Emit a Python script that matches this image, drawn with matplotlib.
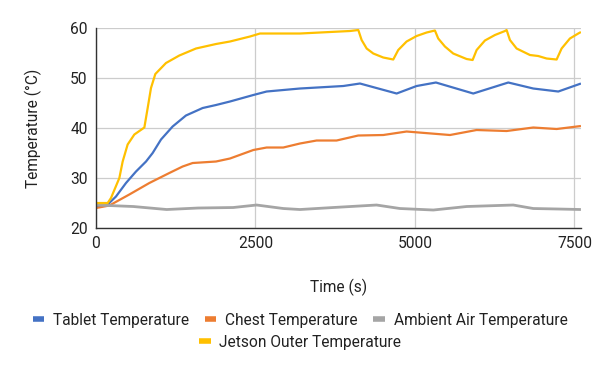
import matplotlib
matplotlib.use('Agg')
import matplotlib.pyplot as plt
from matplotlib.lines import Line2D

plt.rcParams['font.family'] = ['Roboto', 'DejaVu Sans']

# values (time in s, temperature in degC)
tablet_t = [0, 183, 313, 470, 627, 784, 888, 1019, 1201, 1410, 1672, 1881, 2100, 2466, 2675,
            3197, 3876, 4138, 4713, 5026, 5329, 5914, 6463, 6855, 7247, 7602]
tablet_v = [24.3, 24.7, 26.3, 29.0, 31.3, 33.3, 35.0, 37.7, 40.3, 42.5, 44.0, 44.6, 45.3, 46.6, 47.3,
            47.9, 48.4, 48.9, 46.9, 48.4, 49.1, 46.9, 49.1, 47.9, 47.3, 48.9]

chest_t = [0, 209, 522, 836, 1149, 1358, 1515, 1881, 2100, 2466, 2675, 2936, 3197, 3458,
           3771, 4111, 4503, 4869, 5549, 5966, 6437, 6855, 7221, 7602]
chest_v = [24.0, 24.5, 26.7, 29.0, 31.0, 32.3, 33.0, 33.3, 33.9, 35.6, 36.1, 36.1, 36.9, 37.5,
           37.5, 38.5, 38.6, 39.3, 38.6, 39.6, 39.4, 40.1, 39.8, 40.4]

air_t = [0, 585, 1108, 1600, 2151, 2518, 2936, 3197, 3719, 4398, 4765, 5288, 5810,
         6541, 6855, 7250, 7602]
air_v = [24.6, 24.3, 23.7, 24.0, 24.1, 24.6, 23.9, 23.7, 24.1, 24.6, 23.9, 23.6, 24.3,
         24.6, 23.9, 23.8, 23.7]

jetson_t = [0, 183, 235, 366, 418, 496, 601, 758, 810, 862, 930, 1097, 1306, 1567, 1881,
            2100, 2414, 2571, 3197, 3981, 4112, 4164, 4243, 4347, 4503, 4660, 4738, 4869,
            5026, 5183, 5313, 5365, 5470, 5600, 5810, 5904, 5967, 6097, 6254, 6411, 6437,
            6489, 6594, 6803, 6933, 7064, 7221, 7299, 7429, 7560, 7602]
jetson_v = [25.0, 25.0, 26.0, 30.0, 33.3, 36.7, 38.7, 40.1, 44.0, 48.0, 50.8, 53.0, 54.5, 55.9, 56.8,
            57.3, 58.3, 58.9, 58.9, 59.4, 59.6, 57.6, 55.9, 54.9, 54.1, 53.7, 55.6, 57.3,
            58.4, 59.1, 59.5, 57.9, 56.3, 54.9, 53.8, 53.6, 55.6, 57.5, 58.6, 59.4, 59.6,
            57.6, 55.9, 54.6, 54.4, 53.9, 53.7, 55.9, 57.9, 58.9, 59.2]

series = [
    ('Tablet Temperature', tablet_t, tablet_v, '#4472C4'),
    ('Chest Temperature', chest_t, chest_v, '#ED7D31'),
    ('Ambient Air Temperature', air_t, air_v, '#A5A5A5'),
    ('Jetson Outer Temperature', jetson_t, jetson_v, '#FFC000'),
]

fig = plt.figure(figsize=(6, 3.71), dpi=100)
ax = fig.add_axes([0.16, 0.3854, 0.808, 0.5391])

for name, t, v, c in series:
    lw = 2.0 if c == '#A5A5A5' else 1.6
    ax.plot(t, v, color=c, lw=lw, solid_capstyle='butt', solid_joinstyle='round')

ax.set_xlim(0, 7600)
ax.set_ylim(20, 60)
ax.set_xticks([0, 2500, 5000, 7500])
ax.set_yticks([20, 30, 40, 50, 60])
ax.grid(True, color='#cccccc', lw=0.9)
ax.set_axisbelow(True)
for s in ['top', 'right']:
    ax.spines[s].set_visible(False)
for s in ['left', 'bottom']:
    ax.spines[s].set_color('#333333')
    ax.spines[s].set_linewidth(1.0)
ax.tick_params(length=0, labelsize=11.2, colors='#222222', pad=6)
ax.set_xlabel('Time (s)', fontsize=11.2, color='#222222', labelpad=20)
ax.set_ylabel('Temperature (°C)', fontsize=11.2, color='#222222', labelpad=20)

handles = [Line2D([], [], color=c, lw=4, solid_capstyle='butt') for _, _, _, c in series]
names = [s[0] for s in series]
kw = dict(frameon=False, fontsize=11.2, handlelength=0.76, handletextpad=0.55,
          labelcolor='#222222', borderpad=0, borderaxespad=0)
leg1 = fig.legend(handles[:3], names[:3], loc='center', ncol=3, columnspacing=1.0,
                  bbox_to_anchor=(0.5, 1 - 320 / 371), **kw)
leg2 = fig.legend(handles[3:], names[3:], loc='center',
                  bbox_to_anchor=(0.5, 1 - 342 / 371), **kw)

fig.savefig('out.png', dpi=100)
